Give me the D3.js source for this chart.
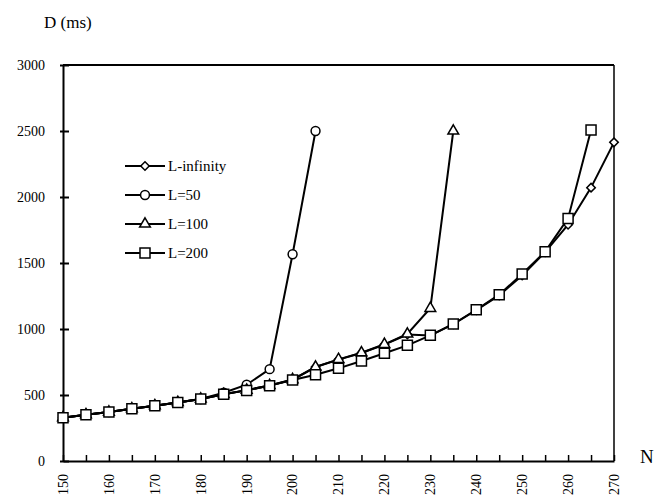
<!DOCTYPE html>
<html lang="en">
<head>
<meta charset="utf-8">
<title>D vs N</title>
<script src="https://d3js.org/d3.v7.min.js"></script>
<style>
  body { margin: 0; background: #fff; }
  svg text { font-family: "Liberation Serif", "Times New Roman", Times, serif; fill: #000; }
</style>
</head>
<body>
<script>
// data
var nValues = [150,155,160,165,170,175,180,185,190,195,200,205,210,215,220,225,230,235,240,245,250,255,260,265,270];
var lInfinity = [328,351,371,396,419,444,470,505,537,572,616,712,768,818,882,958,950,1036,1143,1255,1405,1582,1790,2071,2414];
var l50 = [328,351,371,396,419,444,470,517,578,696,1566,2500];
var l100 = [328,351,371,396,419,444,470,505,537,572,617,712,770,820,884,962,1157,2500];
var l200 = [328,351,371,396,419,444,470,505,535,571,614,654,702,758,816,876,952,1038,1146,1260,1417,1586,1838,2508];
var yTicks = [0,500,1000,1500,2000,2500,3000];
var xLabels = [150,160,170,180,190,200,210,220,230,240,250,260,270];

var seriesList = [
  {name: "L-infinity", values: lInfinity, symbol: d3.symbolSquare, size: 36, rotate: 45},
  {name: "L=50", values: l50, symbol: d3.symbolCircle, size: 62, rotate: 0},
  {name: "L=100", values: l100, symbol: d3.symbolTriangle, size: 50, rotate: 0},
  {name: "L=200", values: l200, symbol: d3.symbolSquare, size: 100, rotate: 0}
];

var w = 659, h = 500;
var plotLeft = 63, plotRight = 614, plotTop = 65, plotBottom = 461;

var svg = d3.select("body").append("svg")
  .attr("width", w)
  .attr("height", h);

var x = d3.scaleLinear().domain([150, 270]).range([plotLeft, plotRight]);
var y = d3.scaleLinear().domain([0, 3000]).range([plotBottom, plotTop]);

// frame: top and right
svg.append("line")
  .attr("x1", plotLeft).attr("x2", plotRight).attr("y1", plotTop).attr("y2", plotTop)
  .attr("stroke", "#000").attr("stroke-width", 2);
svg.append("line")
  .attr("x1", plotRight).attr("x2", plotRight).attr("y1", plotTop).attr("y2", plotBottom)
  .attr("stroke", "#000").attr("stroke-width", 1.5);

// y axis, ticks crossing the line
var yAxis = d3.axisLeft(y).tickValues(yTicks).tickFormat(d3.format("d")).tickSizeInner(3).tickSizeOuter(0);
var gy = svg.append("g").attr("transform", "translate(" + plotLeft + ",0)").call(yAxis);
gy.attr("font-family", null);
gy.select(".domain").attr("stroke-width", 2);
gy.selectAll(".tick line").attr("x1", -3).attr("x2", 6).attr("stroke-width", 2);
gy.selectAll(".tick text").style("font-size", "14px").attr("x", -18);

// x axis, ticks every 5 pointing inward
var xAxis = d3.axisBottom(x).tickValues(nValues).tickSizeInner(-6).tickSizeOuter(0).tickFormat("");
var gx = svg.append("g").attr("transform", "translate(0," + plotBottom + ")").call(xAxis);
gx.select(".domain").attr("stroke-width", 2);
gx.selectAll(".tick line").attr("stroke-width", 1.5);

svg.append("g").selectAll("text")
  .data(xLabels)
  .enter()
  .append("text")
  .attr("transform", function(d) { return "translate(" + x(d) + "," + (plotBottom + 13) + ") rotate(-90)"; })
  .attr("text-anchor", "end")
  .attr("dy", "0.35em")
  .style("font-size", "14px")
  .text(function(d) { return d; });

// axis titles
svg.append("text").attr("x", 44).attr("y", 28).style("font-size", "17px").text("D (ms)");
svg.append("text").attr("x", 640).attr("y", 463).style("font-size", "19px").text("N");

var line = d3.line()
  .x(function(d, i) { return x(nValues[i]); })
  .y(function(d) { return y(d); });

seriesList.forEach(function(s) {
  var g = svg.append("g");
  g.append("path")
    .attr("d", line(s.values))
    .attr("fill", "none")
    .attr("stroke", "#000")
    .attr("stroke-width", 2);
  g.selectAll("path.pt")
    .data(s.values)
    .enter()
    .append("path")
    .attr("class", "pt")
    .attr("transform", function(d, i) { return "translate(" + x(nValues[i]) + "," + y(d) + ") rotate(" + s.rotate + ")"; })
    .attr("d", d3.symbol().type(s.symbol).size(s.size))
    .attr("fill", "#fff")
    .attr("stroke", "#000")
    .attr("stroke-width", 1.5);
});

// legend
var legend = svg.append("g").selectAll("g")
  .data(seriesList)
  .enter()
  .append("g")
  .attr("transform", function(d, i) { return "translate(125," + (166 + i * 29) + ")"; });
legend.append("line")
  .attr("x1", 0).attr("x2", 40)
  .attr("stroke", "#000").attr("stroke-width", 2);
legend.append("path")
  .attr("transform", function(d) { return "translate(20,0) rotate(" + d.rotate + ")"; })
  .attr("d", function(d) { return d3.symbol().type(d.symbol).size(d.size)(); })
  .attr("fill", "#fff")
  .attr("stroke", "#000")
  .attr("stroke-width", 1.5);
legend.append("text")
  .attr("x", 43)
  .attr("dy", "0.35em")
  .style("font-size", "15px")
  .text(function(d) { return d.name; });
</script>
</body>
</html>
